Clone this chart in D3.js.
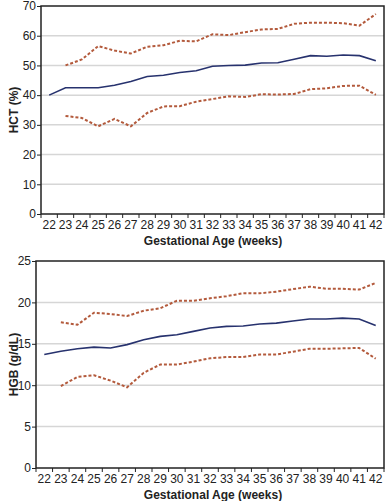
<!DOCTYPE html>
<html>
<head>
<meta charset="utf-8">
<script src="https://cdn.jsdelivr.net/npm/d3@7"></script>
<style>
  body { margin: 0; background: #fff; }
  svg { display: block; font-family: "Liberation Sans", Arial, sans-serif; }
</style>
</head>
<body>
<div id="chart"></div>
<script>
/* Data */
const weeks = [22,23,24,25,26,27,28,29,30,31,32,33,34,35,36,37,38,39,40,41,42];

const hctMean  = [40,42.5,42.5,42.5,43.3,44.6,46.3,46.7,47.6,48.2,49.7,50,50.1,50.8,50.9,52.1,53.3,53.1,53.5,53.3,51.6];
const hctUpper = [null,50,52,56.5,55,54,56.3,56.8,58.3,58.1,60.5,60.2,61.2,62.1,62.3,64,64.4,64.4,64.2,63.4,67.3];
const hctLower = [null,33,32.3,29.5,32,29.5,34,36.2,36.3,37.8,38.7,39.6,39.4,40.3,40.2,40.4,42,42.3,43.1,43.2,40.1];

const hgbMean  = [13.7,14.1,14.4,14.6,14.5,14.9,15.5,15.9,16.1,16.5,16.9,17.1,17.15,17.4,17.5,17.75,18,18,18.1,18,17.2];
const hgbUpper = [null,17.6,17.3,18.75,18.6,18.35,19,19.3,20.2,20.2,20.5,20.75,21.1,21.1,21.3,21.6,21.9,21.65,21.65,21.55,22.35];
const hgbLower = [null,9.9,11,11.2,10.55,9.75,11.5,12.5,12.5,12.85,13.25,13.4,13.4,13.7,13.7,14.05,14.4,14.4,14.45,14.5,13.2];

const hctTicks = [0,10,20,30,40,50,60,70];
const hgbTicks = [0,5,10,15,20,25];

const svg = d3.select("#chart").append("svg")
  .attr("width", 385)
  .attr("height", 501);

function drawPanel(cfg) {
  const x = d3.scaleBand().domain(weeks).range([cfg.left, cfg.right]);
  const y = d3.scaleLinear().domain([0, cfg.max]).range([cfg.bottom, cfg.top]);

  const g = svg.append("g");

  // gridlines
  g.selectAll(".grid")
    .data(cfg.ticks.filter(t => t > 0 && t < cfg.max))
    .enter().append("line")
    .attr("x1", cfg.left).attr("x2", cfg.right)
    .attr("y1", d => y(d)).attr("y2", d => y(d))
    .attr("stroke", "#d6d6d6")
    .attr("stroke-width", 1.5);

  // frame
  g.append("rect")
    .attr("x", cfg.left).attr("y", cfg.top)
    .attr("width", cfg.right - cfg.left).attr("height", cfg.bottom - cfg.top)
    .attr("fill", "none")
    .attr("stroke", "#222")
    .attr("stroke-width", 1.5);

  // y axis
  const ya = g.append("g")
    .attr("transform", `translate(${cfg.left},0)`)
    .call(d3.axisLeft(y).tickValues(cfg.ticks).tickSize(4).tickPadding(1));
  ya.select(".domain").remove();
  ya.selectAll("line").attr("stroke", "#222");
  ya.selectAll("text").attr("font-size", "12px").attr("fill", "#222");

  // x axis: ticks at band edges
  const xa = g.append("g")
    .attr("transform", `translate(0,${cfg.bottom})`);
  xa.selectAll("line")
    .data(weeks.concat(["end"]))
    .enter().append("line")
    .attr("x1", (d, i) => cfg.left + i * x.step())
    .attr("x2", (d, i) => cfg.left + i * x.step())
    .attr("y1", 0).attr("y2", 4)
    .attr("stroke", "#222");
  xa.selectAll("text")
    .data(weeks)
    .enter().append("text")
    .attr("x", d => x(d) + x.bandwidth() / 2)
    .attr("y", 15)
    .attr("text-anchor", "middle")
    .attr("font-size", "12px")
    .attr("fill", "#222")
    .text(d => d);

  // axis titles
  g.append("text")
    .attr("x", 213)
    .attr("y", cfg.bottom + 31)
    .attr("text-anchor", "middle")
    .attr("font-weight", "bold")
    .attr("font-size", "12px")
    .attr("fill", "#222")
    .text("Gestational Age (weeks)");

  g.append("text")
    .attr("transform", `translate(18,${(cfg.top + cfg.bottom) / 2}) rotate(-90)`)
    .attr("text-anchor", "middle")
    .attr("font-weight", "bold")
    .attr("font-size", "12px")
    .attr("fill", "#222")
    .text(cfg.title);

  const line = d3.line()
    .defined(d => d[1] != null)
    .x(d => x(d[0]) + x.bandwidth() / 2)
    .y(d => y(d[1]));

  [cfg.upper, cfg.lower].forEach(s => {
    g.append("path")
      .datum(weeks.map((w, i) => [w, s[i]]))
      .attr("d", line)
      .attr("fill", "none")
      .attr("stroke", "#b35a3c")
      .attr("stroke-width", 2)
      .attr("stroke-dasharray", "3,2");
  });

  g.append("path")
    .datum(weeks.map((w, i) => [w, cfg.mean[i]]))
    .attr("d", line)
    .attr("fill", "none")
    .attr("stroke", "#27326e")
    .attr("stroke-width", 1.6);
}

drawPanel({
  left: 41, right: 384, top: 6, bottom: 214, max: 70,
  ticks: hctTicks, title: "HCT (%)",
  mean: hctMean, upper: hctUpper, lower: hctLower
});

drawPanel({
  left: 36, right: 384, top: 261, bottom: 468, max: 25,
  ticks: hgbTicks, title: "HGB (g/dL)",
  mean: hgbMean, upper: hgbUpper, lower: hgbLower
});
</script>
</body>
</html>
